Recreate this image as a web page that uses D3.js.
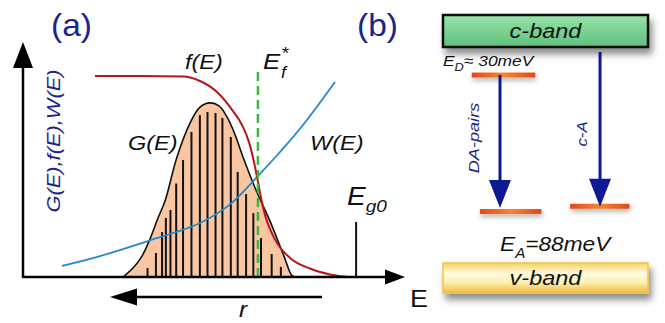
<!DOCTYPE html>
<html>
<head>
<meta charset="utf-8">
<script src="https://cdn.jsdelivr.net/npm/d3@7"></script>
<style>
  html, body { margin: 0; padding: 0; background: #fff; }
  svg { display: block; font-family: "Liberation Sans", Arial, sans-serif; }
</style>
</head>
<body>
<svg id="chart" width="665" height="323"></svg>
<script>
// ---- panel (a) data, arbitrary units (E along x, value along y) ----
const gCurve = [[2.618,0],[2.88,0.038],[3.115,0.089],[3.325,0.162],[3.534,0.251],[3.717,0.323],
                [4.031,0.511],[4.372,0.655],[4.634,0.723],[4.895,0.741],[5.131,0.728],[5.34,0.681],
                [5.55,0.606],[5.759,0.511],[6.099,0.37],[6.466,0.238],[6.832,0.089],[7.042,0.006],[7.15,0]];
const fCurve = [[1.885,0.855],[3.063,0.855],[4.188,0.853],[4.634,0.834],[5.079,0.787],[5.497,0.706],
                [5.733,0.647],[5.916,0.574],[6.047,0.489],[6.152,0.404],[6.243,0.328],[6.335,0.264],
                [6.466,0.204],[6.649,0.145],[6.99,0.081],[7.513,0.036],[8.037,0.011],[8.482,0.001]];
const wCurve = [[1.021,0.047],[2.016,0.089],[3.325,0.156],[4.634,0.23],[5.419,0.309],[6.152,0.43],
                [6.728,0.532],[7.33,0.647],[8.168,0.83]];
const barE = [3.26,3.48,3.64,3.74,3.86,4.01,4.19,4.41,4.63,4.83,5.04,5.22,5.44,5.62,5.84,6.03,6.23,6.51,6.75];
const barH = [0.038,0.102,0.191,0.251,0.285,0.398,0.498,0.617,0.689,0.702,0.698,0.677,0.596,0.447,0.353,0.272,0.166,0.098,0.043];
const efStar = 6.15, efTop = 0.88;
const eg0 = 8.72, eg0H = 0.234;

// ---- panel (b) data, arbitrary units ----
const bandNames = ["c-band", "v-band"];
const bandLo = [88.5, 0];
const bandHi = [100, 10.8];
const levelX0 = [14, 18, 62];
const levelX1 = [45, 48, 91];
const levelY = [78.4, 29.3, 31.2];
const transNames = ["DA-pairs", "c-A"];
const transX = [27.8, 76.6];
const transFrom = [78.4, 86.7];
const transTo = [30.6, 31.0];

const svg = d3.select("#chart");
const defs = svg.append("defs");

const x = d3.scaleLinear().domain([0, 10]).range([23, 405]);
const y = d3.scaleLinear().domain([0, 1]).range([277, 42]);
const xb = d3.scaleLinear().domain([0, 100]).range([443, 648]);
const yb = d3.scaleLinear().domain([0, 100]).range([293, 15]);

const navy = "#1c2585";

// text helper, the original lettering is a bit wider than Arial
// parts: [[text, size, dy], ...] for sub/superscripts
function label(g, px, py, parts, opt) {
  opt = opt || {};
  const t = g.append("text")
    .attr("transform", "translate(" + px + "," + py + ")" + (opt.rot ? " rotate(" + opt.rot + ")" : "") + " scale(" + (opt.sx || 1.12) + ",1)")
    .attr("font-style", opt.italic ? "italic" : "normal")
    .attr("text-anchor", opt.anchor || "start")
    .attr("fill", opt.color || "#111");
  parts.forEach(p => {
    t.append("tspan").attr("font-size", p[1]).attr("dy", p[2] || 0).text(p[0]);
  });
  return t;
}

// ================= panel (a) =================
const a = svg.append("g");

const smooth = d3.line().x(d => x(d[0])).y(d => y(d[1])).curve(d3.curveCatmullRom.alpha(0.5));
const mono = d3.line().x(d => x(d[0])).y(d => y(d[1])).curve(d3.curveMonotoneX);

a.append("path").datum(gCurve)
  .attr("d", smooth)
  .attr("fill", "#fac6a2")
  .attr("stroke", "none");

a.selectAll(".bar").data(barE).enter().append("line")
  .attr("x1", d => x(d)).attr("x2", d => x(d))
  .attr("y1", y(0)).attr("y2", (d, i) => y(barH[i]))
  .attr("stroke", "#111").attr("stroke-width", 2);

a.append("path").datum(gCurve)
  .attr("d", smooth)
  .attr("fill", "none").attr("stroke", "#111").attr("stroke-width", 1.6);

a.append("path").datum(wCurve)
  .attr("d", smooth)
  .attr("fill", "none").attr("stroke", "#2189cc").attr("stroke-width", 1.8);

a.append("path").datum(fCurve)
  .attr("d", mono)
  .attr("fill", "none").attr("stroke", "#b8141c").attr("stroke-width", 2);

a.append("line")
  .attr("x1", x(efStar)).attr("x2", x(efStar))
  .attr("y1", y(0)).attr("y2", y(efTop))
  .attr("stroke", "#3db83c").attr("stroke-width", 2.5)
  .attr("stroke-dasharray", "9,5");

a.append("line")
  .attr("x1", x(eg0)).attr("x2", x(eg0))
  .attr("y1", y(0)).attr("y2", y(eg0H))
  .attr("stroke", "#111").attr("stroke-width", 2);

// axes
a.append("line").attr("x1", x(0)).attr("x2", x(0)).attr("y1", y(0) + 1).attr("y2", 66)
  .attr("stroke", "#000").attr("stroke-width", 2.5);
a.append("path").attr("d", "M" + (x(0) - 10) + ",68 L" + x(0) + ",42 L" + (x(0) + 10) + ",68 Z").attr("fill", "#000");
a.append("line").attr("x1", x(0)).attr("x2", 386).attr("y1", y(0)).attr("y2", y(0))
  .attr("stroke", "#000").attr("stroke-width", 2.5);
a.append("path").attr("d", "M385," + (y(0) - 7.5) + " L405," + y(0) + " L385," + (y(0) + 7.5) + " Z").attr("fill", "#000");

// r arrow
a.append("line").attr("x1", 135).attr("x2", 322).attr("y1", 297).attr("y2", 297)
  .attr("stroke", "#000").attr("stroke-width", 2.5);
a.append("path").attr("d", "M137,288.5 L110,297 L137,305.5 Z").attr("fill", "#000");

// labels
label(a, 51, 36, [["(a)", 31]], { color: navy, sx: 1.08 });
label(a, 60, 141, [["G(E),f(E),W(E)", 19]], { color: navy, italic: true, rot: -90, anchor: "middle", sx: 1.15 });
label(a, 185, 69, [["f(E)", 21]], { italic: true });
label(a, 128, 150, [["G(E)", 21]], { italic: true });
label(a, 310, 150, [["W(E)", 21]], { italic: true });
label(a, 263, 69, [["E", 23]], { italic: true });
label(a, 281, 78, [["f", 16]], { italic: true });
label(a, 281, 59, [["*", 17]], { italic: true });
label(a, 347, 205, [["E", 25], ["g0", 17, 7]], { italic: true });
label(a, 410, 307, [["E", 24]], {});
label(a, 239, 317, [["r", 22]], { italic: true });

// ================= panel (b) =================
const b = svg.append("g");

const sh = defs.append("filter").attr("id", "shadow").attr("x", "-10%").attr("y", "-40%").attr("width", "125%").attr("height", "200%");
sh.append("feDropShadow").attr("dx", 3).attr("dy", 6).attr("stdDeviation", 3.5).attr("flood-color", "#000").attr("flood-opacity", 0.45);
const glow = defs.append("filter").attr("id", "glow").attr("x", "-20%").attr("y", "-200%").attr("width", "140%").attr("height", "500%");
glow.append("feDropShadow").attr("dx", 1).attr("dy", 3).attr("stdDeviation", 2.5).attr("flood-color", "#000").attr("flood-opacity", 0.3);

const gGreen = defs.append("linearGradient").attr("id", "gGreen").attr("x1", 0).attr("y1", 0).attr("x2", 0).attr("y2", 1);
gGreen.append("stop").attr("offset", "0%").attr("stop-color", "#97e3ab");
gGreen.append("stop").attr("offset", "100%").attr("stop-color", "#5fc07c");
const gYellow = defs.append("linearGradient").attr("id", "gYellow").attr("x1", 0).attr("y1", 0).attr("x2", 0).attr("y2", 1);
gYellow.append("stop").attr("offset", "0%").attr("stop-color", "#f7d35c");
gYellow.append("stop").attr("offset", "35%").attr("stop-color", "#fffbe2");
gYellow.append("stop").attr("offset", "65%").attr("stop-color", "#fdf0b0");
gYellow.append("stop").attr("offset", "100%").attr("stop-color", "#f2b83a");
const gOrange = defs.append("linearGradient").attr("id", "gOrange").attr("x1", 0).attr("y1", 0).attr("x2", 1).attr("y2", 0);
gOrange.append("stop").attr("offset", "0%").attr("stop-color", "#e4481a");
gOrange.append("stop").attr("offset", "50%").attr("stop-color", "#f4862e");
gOrange.append("stop").attr("offset", "100%").attr("stop-color", "#e4481a");

const bandFill = ["url(#gGreen)", "url(#gYellow)"];
const bandStroke = ["#111", "#f0c14e"];
const bandW = [2.5, 1.5];
b.selectAll(".band").data(bandNames).enter().append("rect")
  .attr("x", xb(0)).attr("width", xb(100) - xb(0))
  .attr("y", (d, i) => yb(bandHi[i])).attr("height", (d, i) => yb(bandLo[i]) - yb(bandHi[i]))
  .attr("fill", (d, i) => bandFill[i])
  .attr("stroke", (d, i) => bandStroke[i]).attr("stroke-width", (d, i) => bandW[i])
  .attr("filter", "url(#shadow)");
bandNames.forEach((n, i) => {
  label(b, (xb(0) + xb(100)) / 2, (yb(bandHi[i]) + yb(bandLo[i])) / 2 + 7.5, [[n, 21]], { italic: true, anchor: "middle" });
});

b.selectAll(".lvl").data(levelY).enter().append("rect")
  .attr("x", (d, i) => xb(levelX0[i])).attr("width", (d, i) => xb(levelX1[i]) - xb(levelX0[i]))
  .attr("y", d => yb(d) - 2.5).attr("height", 5)
  .attr("fill", "url(#gOrange)")
  .attr("filter", "url(#glow)");

transNames.forEach((n, i) => {
  const xx = xb(transX[i]);
  b.append("line").attr("x1", xx).attr("x2", xx)
    .attr("y1", yb(transFrom[i])).attr("y2", yb(transTo[i]) - 25)
    .attr("stroke", "#0d1a94").attr("stroke-width", 3);
  b.append("path")
    .attr("d", "M" + (xx - 11) + "," + (yb(transTo[i]) - 28) + " L" + xx + "," + yb(transTo[i]) + " L" + (xx + 11) + "," + (yb(transTo[i]) - 28) + " Z")
    .attr("fill", "#0d1a94");
});
label(b, 479, 138, [["DA-pairs", 14.5]], { italic: true, color: navy, rot: -90, anchor: "middle", sx: 1.25 });
label(b, 587, 134, [["c-A", 14.5]], { italic: true, color: navy, rot: -90, anchor: "middle", sx: 1.15 });

label(b, 443, 66, [["E", 15], ["D", 11, 5], ["\u2248 30meV", 15, -5]], { italic: true, sx: 1.16 });
label(b, 500, 251, [["E", 21], ["A", 14, 7], ["=88meV", 21, -7]], { italic: true, sx: 1.08 });

label(b, 357, 36, [["(b)", 31]], { color: navy, sx: 1.08 });
</script>
</body>
</html>
